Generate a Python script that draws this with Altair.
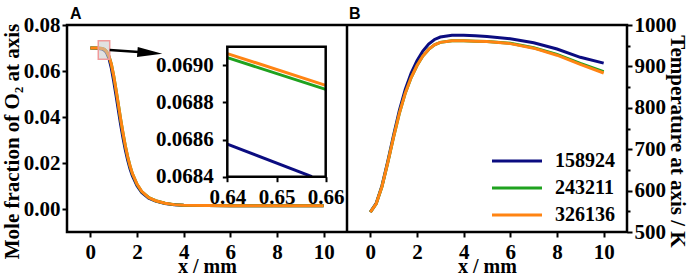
import altair as alt
import pandas as pd

FONT = "Liberation Serif"
SERIES = ["158924", "243211", "326136"]
COLORS = ["#0b0c80", "#1fa21f", "#ff8413"]

# ---- Panel A: O2 mole fraction along the axis ----
X_A = [0, 0.3, 0.5, 0.6, 0.65, 0.7, 0.8, 0.9, 1.0, 1.1, 1.2, 1.3, 1.4, 1.5, 1.6, 1.7, 1.8,
       2.0, 2.2, 2.5, 2.8, 3.2, 3.6, 4.0, 5, 6, 7, 8, 9, 10]
O2_158924 = [0.0700, 0.0699, 0.0696, 0.0690, 0.06855, 0.0679, 0.0654, 0.0612, 0.0557, 0.0494,
             0.0430, 0.0366, 0.0309, 0.0257, 0.0212, 0.0175, 0.0145, 0.0101, 0.0072, 0.0047,
             0.0034, 0.0024, 0.0018, 0.0016, 0.0015, 0.0014, 0.0014, 0.0014, 0.0014, 0.0014]
O2_243211 = [0.0700, 0.0700, 0.0698, 0.0694, 0.06896, 0.0684, 0.0664, 0.0630, 0.0579, 0.0519,
             0.0454, 0.0389, 0.0329, 0.0274, 0.0227, 0.0187, 0.0154, 0.0107, 0.0076, 0.0050,
             0.0036, 0.0025, 0.0019, 0.0016, 0.0015, 0.0014, 0.0014, 0.0014, 0.0014, 0.0014]
O2_326136 = [0.0700, 0.0700, 0.0698, 0.0694, 0.06898, 0.0684, 0.0664, 0.0630, 0.0580, 0.0520,
             0.0455, 0.0390, 0.0330, 0.0275, 0.0228, 0.0188, 0.0155, 0.0108, 0.0077, 0.0050,
             0.0036, 0.0025, 0.0019, 0.0016, 0.0015, 0.0014, 0.0014, 0.0014, 0.0014, 0.0014]

# inset (zoom of 0.64-0.66 mm)
INSET_X_158924 = [0.64, 0.6572]
INSET_Y_158924 = [0.068575, 0.0684]
INSET_X_243211 = [0.64, 0.66]
INSET_Y_243211 = [0.069041, 0.068870]
INSET_X_326136 = [0.64, 0.66]
INSET_Y_326136 = [0.069063, 0.068892]
INSET_XDOM = [0.64, 0.66]
INSET_YDOM = [0.0684, 0.0691]

# ---- Panel B: temperature along the axis ----
X_B = [0, 0.25, 0.5, 0.75, 1.0, 1.25, 1.5, 1.75, 2.0, 2.25, 2.5, 2.75, 3.0, 3.5, 4.0, 4.5,
       5.0, 6.0, 7.0, 8.0, 9.0, 10]
T_158924 = [548, 569, 612, 671, 735, 795, 845, 884, 914, 937, 954, 965, 971, 975, 975, 974,
            972, 967, 957, 942, 922, 908]
T_243211 = [548, 568, 610, 668, 730, 788, 836, 873, 902, 925, 941, 952, 958, 962, 962, 961,
            960, 956, 945, 929, 907, 887]
T_326136 = [548, 568, 610, 668, 730, 788, 836, 873, 902, 925, 941, 952, 958, 962, 962, 961,
            960, 955, 944, 927, 905, 884]

# annotation (zoom box + arrow) in data units of panel A
BOX_X = [0.34, 0.83]
BOX_Y = [0.0651, 0.0732]
ARROW_X = [0.83, 2.55]
ARROW_Y = [0.0691, 0.0679]

X_DOM = [-1, 11]
A_YDOM = [-0.01, 0.08]
B_YDOM = [500, 1000]
A_TICKS_Y = [0.0, 0.01, 0.02, 0.03, 0.04, 0.05, 0.06, 0.07, 0.08]
X_TICKS = [0, 2, 4, 6, 8, 10]
B_TICKS_Y = [500, 550, 600, 650, 700, 750, 800, 850, 900, 950, 1000]
INSET_TICKS_Y = [0.0684, 0.0686, 0.0688, 0.0690]
INSET_TICKS_X = [0.64, 0.65, 0.66]


def long_df(xs, ys_list):
    rows = []
    for name, ys in zip(SERIES, ys_list):
        for x, y in zip(xs, ys):
            rows.append({"x": x, "y": y, "series": name})
    return pd.DataFrame(rows)


dfA = long_df(X_A, [O2_158924, O2_243211, O2_326136])
dfB = long_df(X_B, [T_158924, T_243211, T_326136])
rows = []
for name, xs, ys in zip(SERIES, [INSET_X_158924, INSET_X_243211, INSET_X_326136],
                        [INSET_Y_158924, INSET_Y_243211, INSET_Y_326136]):
    for x, y in zip(xs, ys):
        rows.append({"x": x, "y": y, "series": name})
dfI = pd.DataFrame(rows)
one = pd.DataFrame({"a": [0]})

PW, H = 280, 207          # each panel's width, common height
W = 2 * PW
color_scale = alt.Scale(domain=SERIES, range=COLORS)


def x_axis():
    return alt.Axis(orient="bottom", values=X_TICKS, title="x / mm", labelPadding=4,
                    titleFontSize=20, titleY=40, titleBaseline="alphabetic")


# ---------------- panel A ----------------
linesA = alt.Chart(dfA).mark_line(strokeWidth=3).encode(
    x=alt.X("x:Q", scale=alt.Scale(domain=X_DOM, range=[0, PW], nice=False), axis=x_axis()),
    y=alt.Y("y:Q", scale=alt.Scale(domain=A_YDOM, nice=False, zero=False),
            axis=alt.Axis(orient="left", values=A_TICKS_Y,
                          title="Mole fraction of O₂ at axis",
                          labelExpr="round(datum.value*100) % 2 == 0 ? format(datum.value, '.2f') : ''",
                          tickSize={"condition": {"test": "round(datum.value*100) % 2 != 0", "value": 3}, "value": 5},
                          titleX=-49, titleY=116, titleBaseline="alphabetic")),
    color=alt.Color("series:N", scale=color_scale, legend=None),
)

box = alt.Chart(one).mark_rect(
    fill="#c8c8c8", fillOpacity=0.55, stroke="#f09a9a", strokeWidth=1.5
).encode(x=alt.datum(BOX_X[0]), x2=alt.datum(BOX_X[1]),
         y=alt.datum(BOX_Y[0]), y2=alt.datum(BOX_Y[1]))

arrow = alt.Chart(one).mark_rule(color="black", strokeWidth=2.5).encode(
    x=alt.datum(ARROW_X[0]), x2=alt.datum(ARROW_X[1]),
    y=alt.datum(ARROW_Y[0]), y2=alt.datum(ARROW_Y[1]))

head = alt.Chart(one).mark_point(
    shape="M-1,-0.4L1,0L-1,0.4Z", size=625, angle=4.3, filled=True, color="black", opacity=1
).encode(x=alt.datum(ARROW_X[1]), y=alt.datum(ARROW_Y[1]))

divider = alt.Chart(one).mark_rule(color="black", strokeWidth=2.5).encode(
    x=alt.value(PW), y=alt.value(0), y2=alt.value(H))

label_style = dict(font="Liberation Sans", fontSize=16, fontWeight="bold", color="black",
                   align="left", baseline="alphabetic")
labelA = alt.Chart(one).mark_text(**label_style).encode(
    x=alt.value(3), y=alt.value(-6), text=alt.value("A"))
labelB = alt.Chart(one).mark_text(**label_style).encode(
    x=alt.value(PW + 2), y=alt.value(-6), text=alt.value("B"))

mainA = alt.layer(linesA, box, arrow, head, divider, labelA, labelB)

# ---------------- inset of panel A ----------------
IX0, IX1 = 160.3, 258.7
IY0, IY1 = 151.7, 21.7

inset_lines = alt.Chart(dfI).mark_line(strokeWidth=3).encode(
    x=alt.X("x:Q", scale=alt.Scale(domain=INSET_XDOM, range=[IX0, IX1], nice=False, zero=False),
            axis=alt.Axis(orient="bottom", offset=-(H - IY0), values=INSET_TICKS_X, format=".2f",
                          title=None, labelPadding=5, labelOverlap=False, labelBound=False,
                          labelFlush=False)),
    y=alt.Y("y:Q", scale=alt.Scale(domain=INSET_YDOM, range=[IY0, IY1], nice=False, zero=False),
            axis=alt.Axis(orient="left", offset=-IX0, values=INSET_TICKS_Y, format=".4f",
                          title=None, labelPadding=9, labelOverlap=False)),
    color=alt.Color("series:N", scale=color_scale, legend=None),
)
inset_box = alt.Chart(one).mark_rect(
    fillOpacity=0, stroke="black", strokeWidth=2.5
).encode(x=alt.datum(INSET_XDOM[0]), x2=alt.datum(INSET_XDOM[1]),
         y=alt.datum(INSET_YDOM[0]), y2=alt.datum(INSET_YDOM[1]))
inset = alt.layer(inset_lines, inset_box)

# ---------------- panel B ----------------
linesB = alt.Chart(dfB).mark_line(strokeWidth=3).encode(
    x=alt.X("x:Q", scale=alt.Scale(domain=X_DOM, range=[PW, W], nice=False), axis=x_axis()),
    y=alt.Y("y:Q", scale=alt.Scale(domain=B_YDOM, nice=False, zero=False),
            axis=alt.Axis(orient="right", values=B_TICKS_Y, title="Temperature at axis / K",
                          titleAngle=90, format="d",
                          labelExpr="datum.value % 100 == 0 ? datum.label : ''",
                          tickSize={"condition": {"test": "datum.value % 100 != 0", "value": 3}, "value": 5},
                          titleX=43, titleY=116, titleBaseline="alphabetic")),
    color=alt.Color("series:N", scale=color_scale,
                    legend=alt.Legend(orient="none", legendX=440, legendY=126, title=None,
                                      symbolType="M-10,0H10", symbolSize=25, symbolStrokeWidth=3,
                                      labelOffset=28, rowPadding=7, padding=0,
                                      labelFont=FONT, labelFontSize=20, labelFontWeight="bold",
                                      labelColor="black")),
)

chart = alt.layer(mainA, inset, linesB).resolve_scale(
    x="independent", y="independent", color="independent"
).resolve_legend(color="independent").properties(
    width=W, height=H,
    autosize=alt.AutoSizeParams(type="none"),
    padding={"left": 67, "top": 25, "right": 72, "bottom": 43},
    background="white",
).configure_view(stroke="black", strokeWidth=2.5).configure_axis(
    labelFont=FONT, labelFontSize=21, labelFontWeight="bold", labelColor="black",
    titleFont=FONT, titleFontSize=21, titleFontWeight="bold", titleColor="black",
    tickColor="black", tickWidth=2, tickSize=5, domain=False, grid=False, labelPadding=2,
)

chart.save("out.html", embed_options={"renderer": "svg", "actions": False})
